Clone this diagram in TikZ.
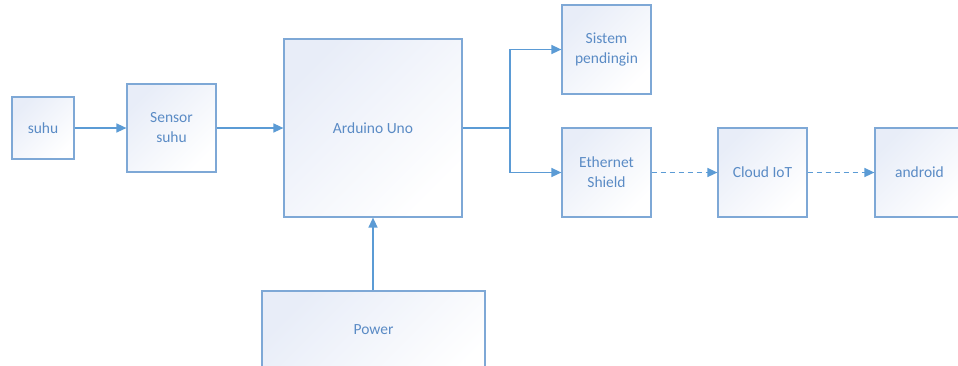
\documentclass[tikz,border=0pt]{standalone}
\usepackage{fontspec}
\setmainfont{Carlito}
\usetikzlibrary{arrows.meta}
\definecolor{boxline}{HTML}{7EA8D6}
\definecolor{arrline}{HTML}{5B9BD5}
\definecolor{txt}{HTML}{5A8BC5}
\definecolor{boxtint}{HTML}{E8EDF8}
\tikzset{
  blk/.style={draw=boxline, line width=1.2pt, top color=boxtint, bottom color=white, shading angle=45,
    inner sep=0pt, align=center, text=txt, font=\fontsize{15.5}{20}\selectfont},
  arr/.style={draw=arrline, line width=1.4pt, -{Triangle[length=10pt,width=9pt]}},
  darr/.style={arr, dash pattern=on 5pt off 4pt}
}
\begin{document}
\begin{tikzpicture}[x=1pt,y=-1pt]
\useasboundingbox (0,0) rectangle (958,365);
\clip (0,0) rectangle (958,365);
\node[blk, minimum width=62pt, minimum height=62pt] (suhu) at (43,128) {suhu};
\node[blk, minimum width=89pt, minimum height=88pt] (sensor) at (171.5,128) {Sensor\\suhu};
\node[blk, minimum width=178pt, minimum height=178pt] (uno) at (373,128) {Arduino Uno};
\node[blk, minimum width=89pt, minimum height=89pt] (sistem) at (606.5,49.5) {Sistem\\pendingin};
\node[blk, minimum width=89pt, minimum height=89pt] (eth) at (606.5,172.5) {Ethernet\\Shield};
\node[blk, minimum width=89pt, minimum height=89pt] (cloud) at (762.5,172.5) {Cloud IoT};
\node[blk, minimum width=89pt, minimum height=89pt] (android) at (919.5,172.5) {android};
\node[blk, minimum width=223pt, minimum height=100pt] (power) at (373.5,341) {};
\node[text=txt, font=\fontsize{15.5}{20}\selectfont] (powerlbl) at (373.5,330) {Power};
\coordinate (split) at (510,128);
\draw[arr] (suhu.east) -- (sensor.west);
\draw[arr] (sensor.east) -- (uno.west);
\draw[arr] (uno.east) -- (split) |- (sistem.west);
\draw[arr] (split) |- (eth.west);
\draw[darr] (eth.east) -- (cloud.west);
\draw[darr] (cloud.east) -- (android.west);
\draw[arr] (power.north -| uno.south) -- (uno.south);
\end{tikzpicture}
\end{document}
